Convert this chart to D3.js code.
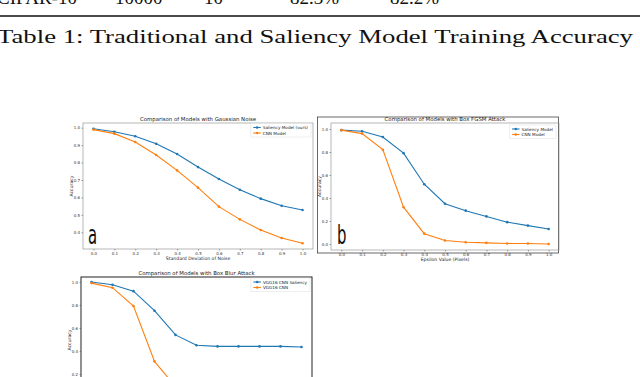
<!DOCTYPE html>
<html>
<head>
<meta charset="utf-8">
<script src="https://cdn.jsdelivr.net/npm/d3@7"></script>
<style>
  html, body { margin: 0; padding: 0; background: #fff; }
  svg { display: block; }
</style>
</head>
<body>
<div id="chart"></div>
<script>
// x positions shared by all three panels
const levels = [0.0, 0.1, 0.2, 0.3, 0.4, 0.5, 0.6, 0.7, 0.8, 0.9, 1.0];
const levelLabels = ["0.0", "0.1", "0.2", "0.3", "0.4", "0.5", "0.6", "0.7", "0.8", "0.9", "1.0"];

// panel a
const noiseSaliency = [0.994, 0.977, 0.951, 0.908, 0.849, 0.774, 0.706, 0.644, 0.593, 0.552, 0.528];
const noiseCnn = [0.989, 0.966, 0.918, 0.843, 0.755, 0.656, 0.547, 0.474, 0.413, 0.367, 0.337];
const noiseTicks = [0.4, 0.5, 0.6, 0.7, 0.8, 0.9, 1.0];

// panel b
const fgsmSaliency = [0.99, 0.98, 0.93, 0.79, 0.52, 0.35, 0.29, 0.24, 0.19, 0.16, 0.13];
const fgsmCnn = [0.99, 0.96, 0.82, 0.32, 0.09, 0.03, 0.015, 0.01, 0.005, 0.005, 0.0];
const fgsmTicks = [0.0, 0.2, 0.4, 0.6, 0.8, 1.0];

// panel c
const blurSaliency = [1.0, 0.975, 0.92, 0.75, 0.54, 0.45, 0.44, 0.44, 0.44, 0.44, 0.435];
const blurCnn = [0.99, 0.95, 0.79, 0.31, 0.09, 0.03, 0.01, 0.005, 0.0, 0.0, 0.0];
const blurTicks = [0.2, 0.4, 0.6, 0.8, 1.0];

const tableRow = ["CIFAR-10", "10000", "10", "82.3%", "82.2%"];
const tableCaption = "Table 1: Traditional and Saliency Model Training Accuracy";

const width = 640, height = 377;
const blue = "#1f77b4", orange = "#ff7f0e";

let svg = d3.select("#chart")
  .append("svg")
  .attr("width", width)
  .attr("height", height);

svg.append("rect").attr("width", width).attr("height", height).attr("fill", "#fff");

// page text above the figures (cut off table row + caption)
const rowX = [-3, 115, 204, 290, 390];
svg.selectAll("text.row")
  .data(tableRow)
  .enter()
  .append("text")
    .attr("class", "row")
    .attr("x", (d, i) => rowX[i])
    .attr("y", 4)
    .attr("font-family", "Liberation Serif")
    .attr("font-size", 19)
    .attr("fill", "#111")
    .text(d => d);

svg.append("line")
  .attr("x1", 0).attr("x2", width)
  .attr("y1", 16).attr("y2", 16)
  .attr("stroke", "#111").attr("stroke-width", 1.6);

svg.append("text")
  .attr("x", -3)
  .attr("y", 43)
  .attr("font-family", "Liberation Serif")
  .attr("font-size", 18)
  .attr("textLength", 636)
  .attr("lengthAdjust", "spacingAndGlyphs")
  .attr("fill", "#111")
  .text(tableCaption);

// one small matplotlib-like line chart
const drawPanel = (p) => {
  let g = svg.append("g");

  let x = d3.scaleLinear().domain([-0.05, 1.05]).range([p.left, p.right]);
  let y = d3.scaleLinear().domain(p.yDomain).range([p.bottom, p.top]);

  // axes box
  g.append("rect")
    .attr("x", p.left).attr("y", p.top)
    .attr("width", p.right - p.left).attr("height", p.bottom - p.top)
    .attr("fill", "none")
    .attr("stroke", p.spine || "#888")
    .attr("stroke-width", p.spineW || 0.6);

  // y ticks
  let yAxis = g.append("g")
    .attr("transform", "translate(" + p.left + ",0)")
    .call(d3.axisLeft(y).tickValues(p.yTicks).tickSize(1.5).tickPadding(1.5)
      .tickFormat(d3.format(".1f")));
  yAxis.select(".domain").remove();
  yAxis.selectAll("line").attr("stroke", "#444").attr("stroke-width", 0.5);
  yAxis.selectAll("text").attr("font-size", 4).attr("font-family", "DejaVu Sans").attr("fill", "#333");

  // x ticks
  let xAxis = g.append("g")
    .attr("transform", "translate(0," + p.bottom + ")")
    .call(d3.axisBottom(x).tickValues(levels).tickSize(1.5).tickPadding(1.5)
      .tickFormat((d, i) => levelLabels[i]));
  xAxis.select(".domain").remove();
  xAxis.selectAll("line").attr("stroke", "#444").attr("stroke-width", 0.5);
  xAxis.selectAll("text").attr("font-size", 4).attr("font-family", "DejaVu Sans").attr("fill", "#333");

  // title and axis labels
  g.append("text")
    .attr("x", (p.left + p.right) / 2).attr("y", p.top - 2.5)
    .attr("text-anchor", "middle")
    .attr("font-size", 5.4).attr("font-family", "DejaVu Sans").attr("fill", "#222")
    .text(p.title);
  if (p.xLabel) {
    g.append("text")
      .attr("x", (p.left + p.right) / 2).attr("y", p.bottom + 10.5)
      .attr("text-anchor", "middle")
      .attr("font-size", 4.6).attr("font-family", "DejaVu Sans").attr("fill", "#222")
      .text(p.xLabel);
  }
  g.append("text")
    .attr("transform", "translate(" + (p.left - 10) + "," + ((p.top + p.bottom) / 2) + ") rotate(-90)")
    .attr("text-anchor", "middle")
    .attr("font-size", 4.6).attr("font-family", "DejaVu Sans").attr("fill", "#222")
    .text("Accuracy");

  // series
  let line = d3.line().x((d, i) => x(levels[i])).y(d => y(d));
  p.series.forEach(s => {
    g.append("path")
      .datum(s.values)
      .attr("d", line)
      .attr("fill", "none")
      .attr("stroke", s.color)
      .attr("stroke-width", 1.1);
    g.selectAll("circle.m" + s.color.slice(1))
      .data(s.values)
      .enter()
      .append("circle")
        .attr("cx", (d, i) => x(levels[i]))
        .attr("cy", d => y(d))
        .attr("r", 1.3)
        .attr("fill", s.color);
  });

  // legend, anchored at its top-right corner
  let lg = g.append("g");
  let box = lg.append("rect")
    .attr("height", 13.5)
    .attr("fill", "#fff").attr("stroke", "#ddd").attr("stroke-width", 0.5);
  let maxW = 0;
  p.series.forEach((s, i) => {
    let yy = 4 + i * 5.5;
    lg.append("line")
      .attr("x1", 2.5).attr("x2", 10)
      .attr("y1", yy).attr("y2", yy)
      .attr("stroke", s.color).attr("stroke-width", 1.1);
    lg.append("circle").attr("cx", 6.25).attr("cy", yy).attr("r", 1.2).attr("fill", s.color);
    let t = lg.append("text")
      .attr("x", 12).attr("y", yy + 1.5)
      .attr("font-size", 4.2).attr("font-family", "DejaVu Sans").attr("fill", "#222")
      .text(s.name);
    maxW = Math.max(maxW, t.node().getComputedTextLength());
  });
  let legW = 12 + maxW + 3;
  box.attr("width", legW);
  lg.attr("transform", "translate(" + (p.legRight - legW) + "," + p.legY + ")");

  // panel letter
  if (p.letter) {
    g.append("text")
      .attr("transform", "translate(" + p.letterX + "," + p.letterY + ") scale(0.55,1)")
      .attr("font-size", 27)
      .attr("font-family", "DejaVu Sans")
      .attr("fill", "#111")
      .text(p.letter);
  }
  return g;
};

drawPanel({
  left: 83, right: 313, top: 123, bottom: 249,
  yDomain: [0.304, 1.027], yTicks: noiseTicks,
  title: "Comparison of Models with Gaussian Noise",
  xLabel: "Standard Deviation of Noise",
  series: [
    { name: "Saliency Model (ours)", color: blue, values: noiseSaliency },
    { name: "CNN Model", color: orange, values: noiseCnn }
  ],
  legRight: 311, legY: 123.5,
  letter: "a", letterX: 88, letterY: 244
});

// frame around panel b
svg.append("rect")
  .attr("x", 317.5).attr("y", 117).attr("width", 241).attr("height", 136)
  .attr("fill", "none").attr("stroke", "#444").attr("stroke-width", 0.8);

drawPanel({
  left: 331, right: 559, top: 123, bottom: 250,
  yDomain: [-0.052, 1.052], yTicks: fgsmTicks,
  title: "Comparison of Models with Box FGSM Attack",
  xLabel: "Epsilon Value (Pixels)",
  series: [
    { name: "Saliency Model", color: blue, values: fgsmSaliency },
    { name: "CNN Model", color: orange, values: fgsmCnn }
  ],
  legRight: 556, legY: 125,
  letter: "b", letterX: 337, letterY: 244
});

drawPanel({
  left: 81, right: 312, top: 277, bottom: 403,
  yDomain: [-0.052, 1.043], yTicks: blurTicks,
  title: "Comparison of Models with Box Blur Attack",
  xLabel: null,
  spine: "#222", spineW: 1,
  series: [
    { name: "VGG16 CNN Saliency", color: blue, values: blurSaliency },
    { name: "VGG16 CNN", color: orange, values: blurCnn }
  ],
  legRight: 310, legY: 278
});
</script>
</body>
</html>
